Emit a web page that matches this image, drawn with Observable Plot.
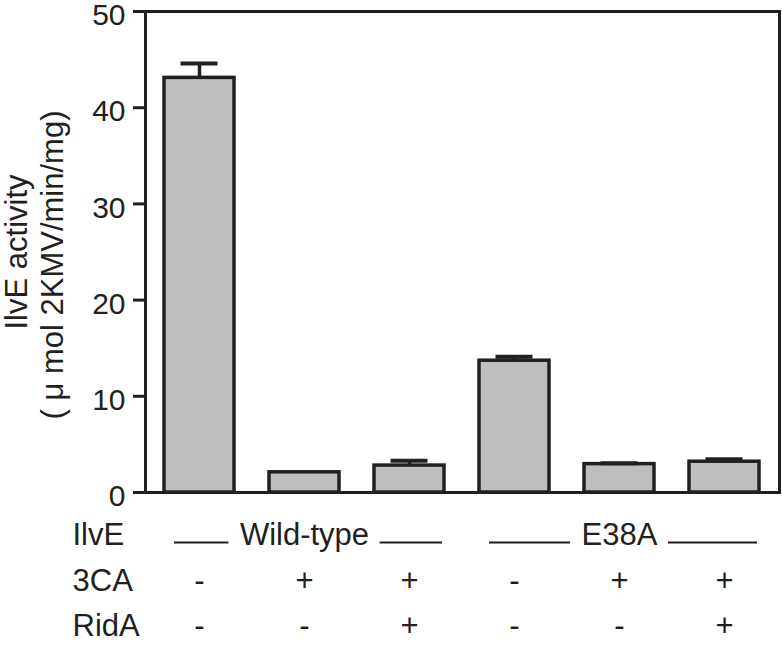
<!DOCTYPE html>
<html><head><meta charset="utf-8">
<script src="https://cdn.jsdelivr.net/npm/d3@7"></script>
<script src="https://cdn.jsdelivr.net/npm/@observablehq/plot@0.6"></script>
<style>body{margin:0;background:#fff}</style>
</head><body><div id="chart"></div>
<script>
// ---- data ----
const conditions = ["WT", "WT+3CA", "WT+3CA+RidA", "E38A", "E38A+3CA", "E38A+3CA+RidA"];
const activity = [43.1, 2.1, 2.8, 13.7, 2.95, 3.2];
const errorUpper = [44.6, 2.1, 3.3, 14.1, 3.05, 3.45];
const ilvE = ["Wild-type", "Wild-type", "Wild-type", "E38A", "E38A", "E38A"];
const threeCA = ["-", "+", "+", "-", "+", "+"];
const ridA = ["-", "-", "+", "-", "-", "+"];
const rowLabels = ["IlvE", "3CA", "RidA"];
const yTicks = [0, 10, 20, 30, 40, 50];
const yLabel1 = "IlvE activity";
const yLabel2 = "( \u03bc mol 2KMV/min/mg)";

// ---- build ----
const INK = "#231f20";
const FONT = "'Liberation Sans', Arial, sans-serif";
const TFS = 31;
const data = conditions.map((c, i) => ({c, v: activity[i], top: errorUpper[i], g: ilvE[i], ca: threeCA[i], rid: ridA[i]}));
const groups = Array.from(new Set(ilvE)).map(g => {
  const members = data.filter(d => d.g === g);
  return {g, first: members[0].c, mid: members[Math.floor(members.length / 2)].c, last: members[members.length - 1].c};
});

const W = 783, H = 647, MT = 11, MB = 155, ML = 145, MR = 4;
const rowDy = [52, 98, 143];

const plot = Plot.plot({
  width: W, height: H,
  marginTop: MT, marginBottom: MB, marginLeft: ML, marginRight: MR,
  style: {fontFamily: FONT, fontSize: "30px", color: INK, background: "#fff"},
  x: {domain: conditions, paddingInner: 0.33, paddingOuter: 0.165, axis: null},
  y: {domain: [0, 50], axis: null},
  marks: [
    Plot.barY(data, {x: "c", y: "v", fill: "#bcbec0", stroke: INK, strokeWidth: 3.5}),
    Plot.ruleX(data.filter(d => d.top > d.v), {x: "c", y1: "v", y2: "top", stroke: INK, strokeWidth: 3.5}),
    Plot.tickY(data.filter(d => d.top > d.v), {x: "c", y: "top", stroke: INK, strokeWidth: 4, insetLeft: 16.5, insetRight: 16.5}),
    Plot.frame({stroke: INK, strokeWidth: 3}),
    Plot.axisY({ticks: yTicks, tickSize: 12, stroke: INK, strokeWidth: 3, label: null, tickFormat: () => ""}),
    Plot.axisY({ticks: yTicks, tickSize: 0, tickPadding: 20, dy: 4, fontSize: 30, fill: INK, label: null, tickFormat: d => String(d)}),
    Plot.text([yLabel1], {text: d => d, frameAnchor: "left", textAnchor: "middle", lineAnchor: "middle", rotate: -90, dx: 17 - ML, dy: 0, fontSize: TFS, fill: INK}),
    Plot.text([yLabel2], {text: d => d, frameAnchor: "left", textAnchor: "middle", lineAnchor: "middle", rotate: -90, dx: 53 - ML, dy: 13, fontSize: TFS, fill: INK}),
    // table rows
    ...rowLabels.map((lab, i) => Plot.text([lab], {text: d => d, frameAnchor: "bottom-left", textAnchor: "start", dx: 72 - ML, dy: rowDy[i], fontSize: TFS, fill: INK})),
    Plot.text(groups, {x: "mid", text: "g", frameAnchor: "bottom", dy: rowDy[0], fontSize: TFS, fill: INK}),
    Plot.text(data, {x: "c", text: "ca", frameAnchor: "bottom", dy: rowDy[1], fontSize: TFS, fill: INK}),
    Plot.text(data, {x: "c", text: "rid", frameAnchor: "bottom", dy: rowDy[2], fontSize: TFS, fill: INK})
  ]
});
document.getElementById("chart").appendChild(plot);

// group bracket lines using the plot's own x scale
const sx = plot.scale("x");
const xb = d3.scaleBand(sx.domain, sx.range)
  .paddingInner(sx.paddingInner).paddingOuter(sx.paddingOuter)
  .align(sx.align ?? 0.5).round(!!sx.round);
const ctx = document.createElement("canvas").getContext("2d");
ctx.font = `${TFS}px ${FONT}`;
const lineY = H - MB + rowDy[0] - 1.5;
const gLines = d3.select(plot).append("g").attr("stroke", INK).attr("stroke-width", 2);
groups.forEach(gr => {
  const cx = xb(gr.mid) + xb.bandwidth() / 2;
  const half = ctx.measureText(gr.g).width / 2;
  const gap = 11;
  const a = xb(gr.first) + 10, b = xb(gr.last) + xb.bandwidth() - 2;
  gLines.append("line").attr("x1", a).attr("x2", cx - half - gap).attr("y1", lineY).attr("y2", lineY);
  gLines.append("line").attr("x1", cx + half + gap).attr("x2", b).attr("y1", lineY).attr("y2", lineY);
});
</script>
</body></html>
